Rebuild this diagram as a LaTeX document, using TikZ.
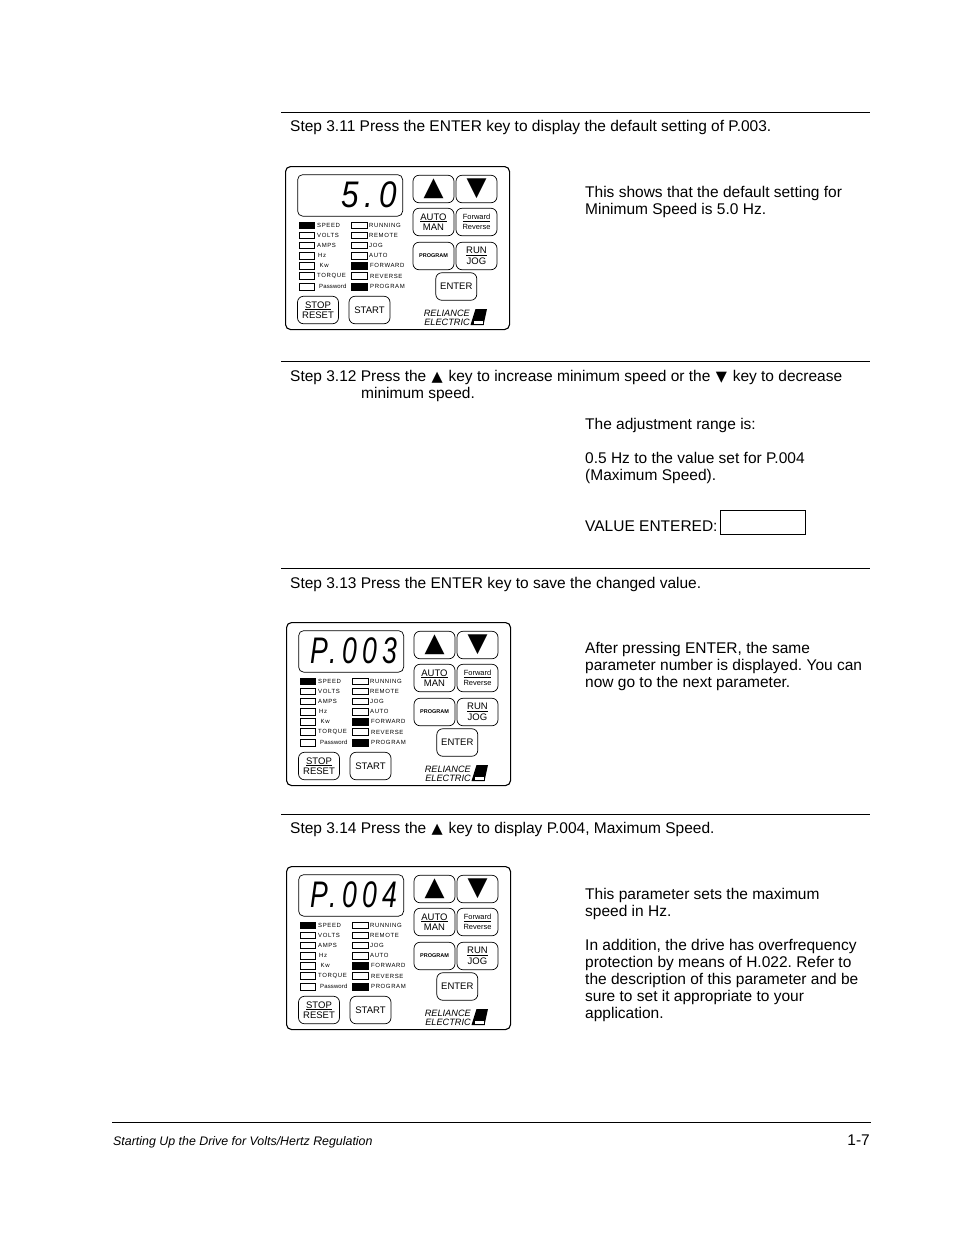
\documentclass[tikz,border=0pt]{standalone}
\usepackage{fontspec}
\usepackage{graphicx}
\setmainfont{Liberation Sans}
\newfontfamily\ledfont[LetterSpace=10]{Liberation Sans}
\newfontfamily\readfont[LetterSpace=12]{Liberation Sans}
\newfontfamily\symfont{DejaVu Sans}
\newcommand{\upkey}{\kern1pt{\fontsize{14.5}{17}\symfont ▲}\kern1.5pt}
\newcommand{\downkey}{\kern1pt{\fontsize{14.5}{17}\symfont ▼}\kern1.5pt}
\frenchspacing
\tikzset{
  para/.style={anchor=north west,inner sep=0pt,align=left,font=\fontsize{15.5}{17}\selectfont\frenchspacing},
  hrule/.style={black,line width=0.8pt},
  panelbox/.style={draw,line width=1.1pt,rounded corners=5pt,anchor=north west,minimum width=224pt,minimum height=163pt,inner sep=0pt},
  dispbox/.style={draw,line width=0.7pt,rounded corners=5pt,anchor=north west,minimum width=105pt,minimum height=41.5pt,inner sep=0pt},
  keybox/.style={draw,line width=0.7pt,rounded corners=6pt,minimum width=41pt,minimum height=27.5pt,inner sep=0pt,align=center,font=\fontsize{9.5}{10.5}\selectfont},
  ledbox/.style={draw,line width=0.6pt,anchor=west,minimum width=15.5pt,minimum height=6.5pt,inner sep=0pt},
  ledon/.style={ledbox,fill=black},
  ledtext/.style={anchor=west,inner sep=0pt,font=\fontsize{6}{6}\ledfont},
  logotext/.style={anchor=east,inner sep=0pt,font=\fontsize{9.2}{9.2}\selectfont\itshape}
}
% one keypad, #1 is the prefix, #2 the place, #3 the display reading
\newcommand{\keypad}[3]{
\begin{scope}[shift={#2}]
\node [panelbox] (#1box) at (0,0) {};
\node [dispbox] (#1disp) at (12.3,8.3) {};
\node [anchor=east,inner sep=0pt,font=\fontsize{37}{37}\readfont\itshape] (#1read) at (112,29) {#3};
\node [keybox,font=\fontsize{26}{26}\symfont] (#1up) at (148.5,23) {▲};
\node [keybox,font=\fontsize{26}{26}\symfont] (#1down) at (191.5,23) {▼};
\node [keybox] (#1auto) at (148.5,56) {\underline{AUTO}\\MAN};
\node [keybox,font=\fontsize{7.5}{9.5}\selectfont] (#1fwd) at (191.5,56) {\underline{Forward}\\Reverse};
\node [keybox,font=\fontsize{5.5}{6}\selectfont\bfseries] (#1prog) at (148.5,90) {PROGRAM};
\node [keybox] (#1run) at (191.5,90) {\underline{RUN}\\JOG};
\node [keybox] (#1enter) at (171.3,120.5) {ENTER};
\node [keybox] (#1stop) at (33,144) {\underline{STOP}\\RESET};
\node [keybox] (#1start) at (84.5,144) {START};
\foreach \ypos/\name/\lbl/\lx/\sty in {59.3/a/SPEED/32/ledon,69.3/b/VOLTS/32/ledbox,79.3/c/AMPS/32/ledbox,89.7/d/Hz/33/ledbox,99.7/e/Kw/34.5/ledbox,110/f/TORQUE/32/ledbox,120.7/g/{\addfontfeature{LetterSpace=2}Password}/34/ledbox}
  {
  \node [\sty] (#1l\name) at (13.7,\ypos) {};
  \node [ledtext] (#1lt\name) at (\lx,\ypos) {\lbl};
  }
\foreach \ypos/\name/\lbl/\lx/\sty in {59.3/a/RUNNING/84/ledbox,69.3/b/REMOTE/84/ledbox,79.3/c/JOG/84/ledbox,89.7/d/AUTO/84/ledbox,99.7/e/FORWARD/85/ledon,110/f/REVERSE/85/ledbox,120.7/g/PROGRAM/85/ledon}
  {
  \node [\sty] (#1r\name) at (66,\ypos) {};
  \node [ledtext] (#1rt\name) at (\lx,\ypos) {\lbl};
  }
\node [logotext] (#1rel) at (185,147) {RELIANCE};
\node [logotext] (#1ele) at (185,156) {ELECTRIC};
\fill (190.5,143) -- (202,143) -- (198.5,159) -- (185.5,159) -- cycle;
\fill [white] (188.5,154) rectangle (198,158);
\draw [line width=0.5pt] (188.5,154) rectangle (198,158);
\end{scope}
}

\begin{document}
\begin{tikzpicture}[x=1pt,y=-1pt]
\useasboundingbox (0,0) rectangle (954,1235);
\fill [white] (0,0) rectangle (954,1235);
% rules
\coordinate (ra1) at (281,112.5);
\coordinate (rb1) at (870,112.5);
\coordinate (ra2) at (281,361.5);
\coordinate (rb2) at (870,361.5);
\coordinate (ra3) at (281,568.5);
\coordinate (rb3) at (870,568.5);
\coordinate (ra4) at (281,814.5);
\coordinate (rb4) at (870,814.5);
\coordinate (ra5) at (112,1122);
\coordinate (rb5) at (871,1122);
\foreach \i in {1,...,5}
  \draw [hrule] (ra\i) -- (rb\i);
% step 3.11
\node [para] (step11) at (290,120) {Step 3.11 Press the ENTER key to display the default setting of P.003.};
\keypad{pa}{(285,166)}{\scalebox{.85}[1]{\addfontfeature{LetterSpace=18}5.0}}
\node [para] (note11) at (585,186) {This shows that the default setting for\\Minimum Speed is 5.0 Hz.};
% step 3.12
\node [para] (step12) at (290,370) {Step 3.12 Press the \upkey{} key to increase minimum speed or the \downkey{} key to decrease\\\hspace*{71pt}minimum speed.};
\node [para] (note12) at (585,418) {The adjustment range is:\\[17pt]0.5 Hz to the value set for P.004\\(Maximum Speed).};
\node [para] (valtext) at (585,521) {VALUE ENTERED:};
\node [draw,line width=0.7pt,anchor=north west,minimum width=85pt,minimum height=24pt,inner sep=0pt] (valbox) at (720,510) {};
% step 3.13
\node [para] (step13) at (290,577) {Step 3.13 Press the ENTER key to save the changed value.};
\keypad{pb}{(286,622)}{\scalebox{.72}[1]{\addfontfeature{LetterSpace=20}P.003}}
\node [para] (note13) at (585,642) {After pressing ENTER, the same\\parameter number is displayed. You can\\now go to the next parameter.};
% step 3.14
\node [para] (step14) at (290,822) {Step 3.14 Press the \upkey{} key to display P.004, Maximum Speed.};
\keypad{pc}{(286,866)}{\scalebox{.72}[1]{\addfontfeature{LetterSpace=20}P.004}}
\node [para] (note14) at (585,888) {This parameter sets the maximum\\speed in Hz.\\[17pt]In addition, the drive has overfrequency\\protection by means of H.022. Refer to\\the description of this parameter and be\\sure to set it appropriate to your\\application.};
% footer
\node [anchor=west,inner sep=0pt,font=\fontsize{12.4}{13}\selectfont\itshape] (foot) at (113,1142) {Starting Up the Drive for Volts/Hertz Regulation};
\node [anchor=east,inner sep=0pt,font=\fontsize{15.5}{17}\selectfont] (pageno) at (870,1140) {1-7};
\end{tikzpicture}
\end{document}
